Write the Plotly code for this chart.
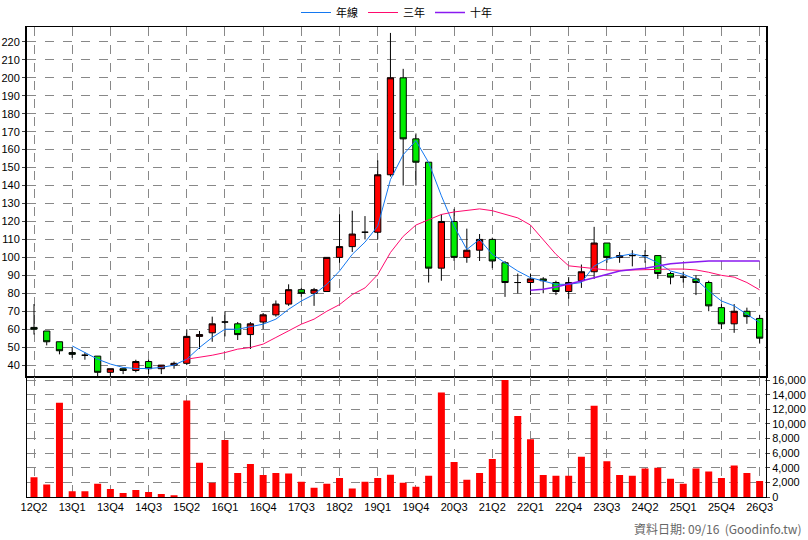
import plotly.graph_objects as go

quarters = []
y, q = 12, 2
for _ in range(58):
    quarters.append(f"{y:02d}Q{q}")
    q += 1
    if q > 4:
        q = 1; y += 1

open_ = [61,59,53,47,45.5,45,36,38,37,42,38,40,41,56,58,64,63,57,64,68,74,82,80,81,100,106,114,114,146,200,166,153,94,120,100,104,110,97,86,86,88,86,81,87,92,108,100,101,101,101,91,89,88,86,72,63,70,66]
high_ = [74,59,53,50,47,45,38,38,43,43,40,42,60,59,67,70,64,64,69,76,85,83,83,100,124,126,123,154,225,205,169,153,124,127,116,113,111,98,91,91,89,87,89,96,117,108,103,104,104,101,92,92,90,87,74,74,72,68]
low_ = [57,51,46,44,43,33,34,35,36,35,35,38,40,49,53,56,54,49,60,67,73,78,73,81,97,103,110,110,145,140,140,86,87,98,97,98,94,78,80,79,80,79,77,83,88,97,97,95,97,88,85,86,79,70,60,58,63,52]
close_ = [60,53,48,46,45.5,36,38,37,42,38,40,41,56,57,63,64,57,63,68,74,82,80,82,100,106,113,114,146,200,166,153,94,120,100,104,110,98,86,86,88,87,81,86,92,108,100,101,101,101,91,89,89,86,73,63,70,67,55]
ma_year = [None,None,None,50.7,47,43.3,40.6,38.7,38.1,38.1,38.7,40,43.3,49.8,55.4,60,60,61.5,62.8,65.6,71.1,75.7,79.4,85,92.4,101.7,108.5,117.4,143.3,157.2,165,152.8,134.3,117.4,104.4,110,101.7,97,92.4,88.7,86.9,85,85,86,95.2,98.9,100.7,102,100.4,97,92.4,90.6,87.8,81.3,75.7,73,68.3,63.7]
ma_3y = [None]*12 + [43.3,44.3,45.5,47,48.9,49.8,51.7,55.4,59,62.8,65.6,70,73.7,79.3,83,90.4,102.7,111.7,118,121,123.9,125.3,126,127,126,124,122,118,110,101.7,95.3,94.4,93.9,93,92.8,93,93.5,93.5,93.5,93.5,93,91.7,90,89,86,81.9]
ma_10y = [None]*39 + [81.7,82.2,83.5,85,86.9,88.7,90.6,92.4,93.3,93.9,95.2,96.5,97,97.6,98,98,98,98.3,98]
volume = [2700,1700,12900,800,800,1800,1100,550,950,700,400,250,13200,4700,1950,7800,3300,4500,3000,3300,3200,2100,1250,1800,2600,1150,2100,2600,3050,1950,1400,2900,14300,4800,2350,3300,5200,16000,11100,7900,3000,2900,2900,5500,12500,4900,3000,2900,3900,4000,2500,1800,3900,3500,2600,4300,3300,2200]
price_ticks = list(range(40, 230, 10))
vol_ticks = list(range(0, 16001, 2000))

xs = list(range(len(quarters)))
fig = go.Figure()
fig.add_trace(go.Candlestick(x=xs, open=open_, high=high_, low=low_, close=close_,
    increasing=dict(line=dict(color="black", width=1), fillcolor="#FF0000"),
    decreasing=dict(line=dict(color="black", width=1), fillcolor="#00EE00"),
    whiskerwidth=0, showlegend=False, hoverinfo="skip", xaxis="x", yaxis="y"))
fig.add_trace(go.Scatter(x=xs, y=ma_year, mode="lines", name="年線", line=dict(color="#1478F0", width=1), xaxis="x", yaxis="y"))
fig.add_trace(go.Scatter(x=xs, y=ma_3y, mode="lines", name="三年", line=dict(color="#FF0A6E", width=1), xaxis="x", yaxis="y"))
fig.add_trace(go.Scatter(x=xs, y=ma_10y, mode="lines", name="十年", line=dict(color="#8A1AF0", width=1.5), xaxis="x", yaxis="y"))
fig.add_trace(go.Bar(x=xs, y=volume, marker=dict(color="#FF0000", line=dict(width=0)), width=0.55, showlegend=False, xaxis="x2", yaxis="y2"))

grid = dict(showgrid=True, gridcolor="#888888", griddash="dash", gridwidth=1)
xr = [-0.55, 57.5]
fig.update_layout(
    width=808, height=540, paper_bgcolor="white", plot_bgcolor="white",
    margin=dict(l=27, r=42, t=27, b=43, autoexpand=False),
    font=dict(family="Liberation Sans, Arial", size=11, color="black"),
    legend=dict(orientation="h", x=0.5, xanchor="center", y=1.0, yanchor="bottom",
                font=dict(family="Noto Sans CJK TC", size=11), bgcolor="rgba(0,0,0,0)"),
    xaxis=dict(domain=[0, 1], range=xr, anchor="y", tickvals=xs[::3], showticklabels=False,
               ticks="", showline=True, linecolor="black", mirror=True, **grid,
               rangeslider=dict(visible=False), zeroline=False, automargin=False),
    yaxis=dict(domain=[0.255, 1], range=[33.3, 228.3], tickvals=price_ticks, side="left",
               ticks="outside", ticklen=3, showline=True, linecolor="black", linewidth=2, mirror=True,
               **grid, zeroline=False, automargin=False),
    xaxis2=dict(domain=[0, 1], range=xr, anchor="y2", tickvals=xs[::3], ticktext=quarters[::3],
                ticks="", showline=True, linecolor="black", mirror=True, **grid, zeroline=False,
                automargin=False),
    yaxis2=dict(domain=[0, 0.255], range=[0, 16400], tickvals=vol_ticks, side="right",
                tickformat=",", ticks="outside", ticklen=3, showline=True, linecolor="black",
                mirror=True, **grid, zeroline=False, automargin=False),
)
fig.add_annotation(text="資料日期: 09/16  (Goodinfo.tw)", xref="paper", yref="paper", x=1.052, y=-0.045,
                   xanchor="right", yanchor="top", showarrow=False,
                   font=dict(family="Noto Sans CJK TC", size=12, color="#666666"))
fig.write_html("out.html", config={"displayModeBar": False},
               post_script="document.body.style.margin='0';document.body.style.overflow='hidden';")
